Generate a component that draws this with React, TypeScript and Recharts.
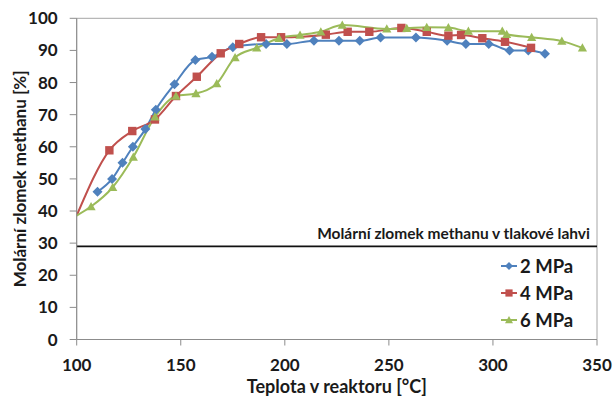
import React from "react";
import {
  LineChart, Line, XAxis, YAxis, ReferenceLine, ReferenceArea, Label,
} from "recharts";

// 2 MPa
const t2 = [110, 117, 122, 127, 133, 138, 147, 157, 165, 175, 191, 201, 214, 226, 236, 246, 263, 278, 287, 298, 308, 317, 325];
const v2 = [46, 50, 55, 60, 65.5, 71.5, 79.5, 87, 88, 91, 92, 92, 93, 93, 93, 94, 94, 93, 92, 92, 90, 90, 89];

// 4 MPa
const t4 = [100, 115.7, 126.7, 137.6, 147.7, 157.7, 169.2, 178.1, 188.6, 198.2, 219.7, 230.2, 240.6, 256, 268.2, 278.6, 284.7, 294.9, 305.8, 318.3];
const v4 = [38.6, 58.9, 64.9, 68.5, 75.8, 81.8, 89.1, 92, 94.1, 94.1, 94.9, 95.8, 95.8, 97, 95.8, 94.6, 94.8, 93.8, 92.7, 90.8];

// 6 MPa
const t6 = [100, 106.9, 117.3, 127.2, 137.6, 147.7, 157.3, 167.3, 176.1, 186.5, 197.2, 207.3, 217.3, 227.6, 249, 258.6, 268.2, 278.6, 288.2, 304.5, 306.6, 318.6, 333.1, 343];
const v6 = [38.6, 41.4, 47.4, 56.8, 69.3, 75.8, 76.6, 79.7, 87.8, 90.8, 93.8, 94.8, 95.8, 97.9, 96.7, 96.9, 97.2, 97.1, 96, 96, 95, 94.1, 92.9, 90.8];

const xTicks = [100, 150, 200, 250, 300, 350];
const yTicks = [0, 10, 20, 30, 40, 50, 60, 70, 80, 90, 100];
const bottleLevel = 29;
const bottleLabel = "Molární zlomek methanu v tlakové lahvi";
const seriesNames = ["2 MPa", "4 MPa", "6 MPa"];

const BLUE = "#4F81BD";
const RED = "#C0504D";
const GREEN = "#9BBB59";
const AXIS = "#8c8c8c";
const TEXT = "#1a1a1a";
const FONT = "Lato, 'Open Sans', sans-serif";

const toRows = (t: number[], v: number[]) => t.map((x, i) => ({ t: x, v: v[i] }));
const d2 = toRows(t2, v2);
const d4 = toRows(t4, v4);
const d6 = toRows(t6, v6);

// markers
function diamond(cx: number, cy: number, r: number, color: string, key?: string) {
  return <path key={key} d={`M${cx},${cy - r}L${cx + r},${cy}L${cx},${cy + r}L${cx - r},${cy}Z`} fill={color} />;
}
function square(cx: number, cy: number, r: number, color: string, key?: string) {
  return <rect key={key} x={cx - r} y={cy - r} width={2 * r} height={2 * r} fill={color} />;
}
function triangle(cx: number, cy: number, r: number, color: string, key?: string) {
  return <path key={key} d={`M${cx},${cy - r}L${cx + r},${cy + r * 0.8}L${cx - r},${cy + r * 0.8}Z`} fill={color} />;
}

const BlueDot = (p: any) => diamond(p.cx, p.cy, 5, BLUE, `b${p.index}`);
const RedDot = (p: any) =>
  p.payload.t <= 100 ? <g key={`r${p.index}`} /> : square(p.cx, p.cy, 4.2, RED, `r${p.index}`);
const GreenDot = (p: any) =>
  p.payload.t <= 100 ? <g key={`g${p.index}`} /> : triangle(p.cx, p.cy, 4.6, GREEN, `g${p.index}`);

const tickStyle = { fontSize: 17, fontWeight: 700, fill: TEXT, fontFamily: FONT };

function LegendBox() {
  const marks = [
    (cx: number, cy: number) => diamond(cx, cy, 4, BLUE),
    (cx: number, cy: number) => square(cx, cy, 3.6, RED),
    (cx: number, cy: number) => triangle(cx, cy, 4, GREEN),
  ];
  const colors = [BLUE, RED, GREEN];
  return (
    <div style={{ position: "absolute", left: 500, top: 253, fontFamily: FONT }}>
      {seriesNames.map((name, i) => (
        <div key={name} style={{ display: "flex", alignItems: "center", height: 26.7 }}>
          <svg width={18} height={12} style={{ marginRight: 2 }}>
            <line x1={1} y1={6} x2={17} y2={6} stroke={colors[i]} strokeWidth={2} />
            {marks[i](9, 6)}
          </svg>
          <span style={{ fontSize: 18.5, fontWeight: 700, color: TEXT }}>{name}</span>
        </div>
      ))}
    </div>
  );
}

export default function App() {
  return (
    <div style={{ position: "absolute", left: 0, top: 0, width: 616, height: 401, background: "#fff" }}>
      <LineChart
        width={616}
        height={401}
        margin={{ top: 18.3, right: 19, left: 16.7, bottom: 6.5 }}
        style={{ fontFamily: FONT }}
      >
        <XAxis
          dataKey="t"
          type="number"
          domain={[100, 350]}
          ticks={xTicks}
          allowDataOverflow
          height={55}
          tickSize={6}
          tickMargin={13}
          stroke={AXIS}
          tick={tickStyle}
        >
          <Label
            value="Teplota v reaktoru [°C]"
            position="insideBottom"
            offset={2}
            style={{ fontSize: 18, fontWeight: 700, fill: TEXT, fontFamily: FONT }}
          />
        </XAxis>
        <YAxis
          type="number"
          domain={[0, 100]}
          ticks={yTicks}
          width={60}
          tickSize={7}
          tickMargin={12}
          stroke={AXIS}
          tick={tickStyle}
        >
          <Label
            value="Molární zlomek methanu [%]"
            angle={-90}
            position="insideLeft"
            offset={3.5}
            style={{ textAnchor: "middle", fontSize: 17, fontWeight: 700, fill: TEXT, fontFamily: FONT }}
          />
        </YAxis>
        <ReferenceArea x1={100} x2={350} y1={0} y2={100} fill="none" stroke="#a6a6a6" strokeWidth={1} />
        <ReferenceLine y={bottleLevel} stroke="#111" strokeWidth={1.6}>
          <Label
            value={bottleLabel}
            position="insideBottomRight"
            offset={7}
            style={{ fontSize: 15.5, fontWeight: 700, fill: TEXT, fontFamily: FONT }}
          />
        </ReferenceLine>
        <Line data={d2} dataKey="v" type="monotone" stroke={BLUE} strokeWidth={2} dot={BlueDot} activeDot={false} isAnimationActive={false} />
        <Line data={d4} dataKey="v" type="monotone" stroke={RED} strokeWidth={2} dot={RedDot} activeDot={false} isAnimationActive={false} />
        <Line data={d6} dataKey="v" type="monotone" stroke={GREEN} strokeWidth={2} dot={GreenDot} activeDot={false} isAnimationActive={false} />
      </LineChart>
      <LegendBox />
    </div>
  );
}
